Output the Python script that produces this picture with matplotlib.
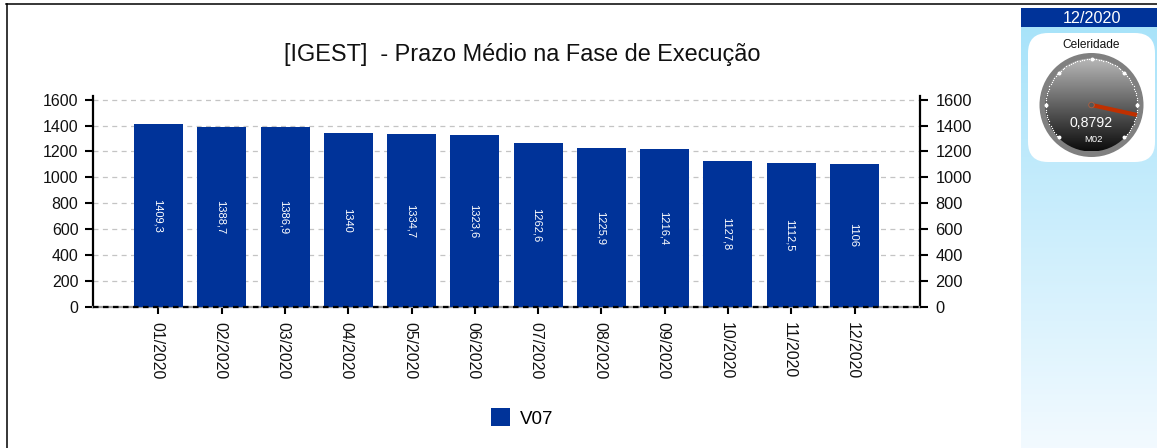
import numpy as np
import matplotlib
matplotlib.use("Agg")
import matplotlib.pyplot as plt
from matplotlib.patches import Circle, FancyBboxPatch, Rectangle, Patch
from matplotlib.transforms import ScaledTranslation

plt.rcParams['font.family'] = ['Liberation Sans', 'DejaVu Sans']

months = ["01/2020","02/2020","03/2020","04/2020","05/2020","06/2020",
          "07/2020","08/2020","09/2020","10/2020","11/2020","12/2020"]
values = [1409.3,1388.7,1386.9,1340,1334.7,1323.6,1262.6,1225.9,1216.4,1127.8,1112.5,1106]
value_labels = ["1409,3","1388,7","1386,9","1340","1334,7","1323,6",
                "1262,6","1225,9","1216,4","1127,8","1112,5","1106"]
y_ticks = [0,200,400,600,800,1000,1200,1400,1600]
series_name = "V07"
title = "[IGEST]  - Prazo Médio na Fase de Execução"
gauge_value = 0.8792
gauge_label = "0,8792"
gauge_unit = "M02"
gauge_title = "Celeridade"
period = "12/2020"

W, H = 1157, 448
BLUE = "#003399"
fig = plt.figure(figsize=(W/100, H/100), dpi=100, facecolor="white")

# Background layer in pixel coordinates
bg = fig.add_axes([0,0,1,1], zorder=0)
bg.set_xlim(0,W); bg.set_ylim(H,0); bg.axis("off")
grad = np.linspace(0,1,256).reshape(-1,1)
c0, c1 = np.array([0.66,0.89,0.98]), np.array([0.95,0.98,1.0])
bg.imshow(c0 + (c1-c0)*grad[...,None], extent=[1021,W,H,27], aspect="auto", zorder=1)
bg.set_xlim(0,W); bg.set_ylim(H,0)
bg.add_patch(Rectangle((1021,8),W-1021,19,color=BLUE,lw=0,zorder=2))
bg.text(1091.5,18.5,period,color="white",fontsize=11.6,ha="center",va="center",zorder=3)
bg.plot([6,W],[4.5,4.5],color="black",lw=1.1,zorder=4)
bg.plot([6.5,6.5],[4,H],color="black",lw=1.1,zorder=4)
rad = 20
bg.add_patch(FancyBboxPatch((1028+rad,33+rad),127-2*rad,129-2*rad,
                            boxstyle=f"round,pad={rad},rounding_size={rad}",
                            fc="white",ec="none",zorder=2))
bg.text(1091.5,45.5,gauge_title,fontsize=8.6,ha="center",va="center",color="#111111",zorder=3)

# Gauge
cx, cy, r = 1091.5, 105.0, 52.0
bg.add_patch(Circle((cx,cy),r,fc="#808080",ec="none",zorder=3))
inner = r-5.5
g = np.linspace(0.72,0.05,256).reshape(-1,1)
im = bg.imshow(g,cmap="gray",vmin=0,vmax=1,extent=[cx-inner,cx+inner,cy+inner,cy-inner],
               aspect="auto",zorder=4)
im.set_clip_path(Circle((cx,cy),inner,transform=bg.transData))
bg.set_xlim(0,W); bg.set_ylim(H,0)
a0, sweep = 225.0, 270.0
minor = np.radians(a0 - sweep*np.linspace(0,1,91))
bg.scatter(cx+(inner-0.5)*np.cos(minor), cy-(inner-0.5)*np.sin(minor), s=0.9, c="white", lw=0, zorder=5)
major = np.radians(a0 - sweep*np.linspace(0,1,7))
bg.scatter(cx+(inner-1)*np.cos(major), cy-(inner-1)*np.sin(major), s=8, c="white", marker="o", lw=0, zorder=5)
ang = np.radians(a0 - sweep*gauge_value)
bg.plot([cx,cx+inner*np.cos(ang)],[cy,cy-inner*np.sin(ang)],color="#c03000",lw=3,
        solid_capstyle="butt",zorder=6)
bg.add_patch(Circle((cx,cy),2.8,fc="#555555",ec="#b06040",lw=0.6,zorder=7))
bg.text(cx,123,gauge_label,color="white",fontsize=10.2,ha="center",va="center",zorder=8)
bg.text(cx+2,139,gauge_unit,color="white",fontsize=6.8,ha="center",va="center",zorder=8)

# Chart
L,R,T,B = 93,920,96,307
ax = fig.add_axes([L/W,1-B/H,(R-L)/W,(B-T)/H],zorder=2)
ax.patch.set_alpha(0)
x = np.arange(len(months))
ax.set_xlim(-1.035,11+1.035)
ax.set_ylim(0,1628)
ax.bar(x,values,width=0.775,color=BLUE,zorder=3)
ax.set_yticks(y_ticks)
ax.set_xticks(x)
ax.set_xticklabels(months,rotation=-90,fontsize=11.4,color="#111111")
ax.tick_params(axis="y",direction="out",length=6,width=1.5,labelsize=11.5,pad=4.5,labelcolor="#111111")
ax.tick_params(axis="x",direction="out",length=5,width=1.5,pad=6)
shift = ScaledTranslation(-2/100,0,fig.dpi_scale_trans)
for lab in ax.get_xticklabels():
    lab.set_transform(lab.get_transform()+shift)
ax.grid(axis="y",color="#c4c4c4",ls=(0,(4,3.5)),lw=0.9,zorder=1)
ax.spines["top"].set_visible(False)
for s in ("left","right"):
    ax.spines[s].set_linewidth(1.6)
ax.spines["bottom"].set_color("#9a9a9a"); ax.spines["bottom"].set_linewidth(1.6)
ax.plot([0,1],[0,0],transform=ax.transAxes,color="black",lw=1.6,ls=(0,(2.5,2)),clip_on=False,zorder=4)
for xi,v,l in zip(x,values,value_labels):
    ax.text(xi-0.02,v/2,l,rotation=-90,color="white",fontsize=8,ha="center",va="center",zorder=5)
ax2 = ax.twinx()
ax2.set_ylim(ax.get_ylim()); ax2.set_yticks(y_ticks)
ax2.tick_params(axis="y",direction="out",length=6,width=1.5,labelsize=11.8,pad=5,labelcolor="#111111")
ax2.patch.set_alpha(0)
for s in ("top","bottom","left","right"):
    ax2.spines[s].set_visible(False)

fig.text(522/W,1-54/H,title,fontsize=16.9,ha="center",va="center",color="#111111")
fig.legend(handles=[Patch(fc=BLUE,ec="none",label=series_name)],loc="center",
           bbox_to_anchor=(522/W,1-418/H),frameon=False,fontsize=13.5,
           handlelength=1.05,handleheight=1.05,handletextpad=0.5)
fig.savefig("out.png",dpi=100)
